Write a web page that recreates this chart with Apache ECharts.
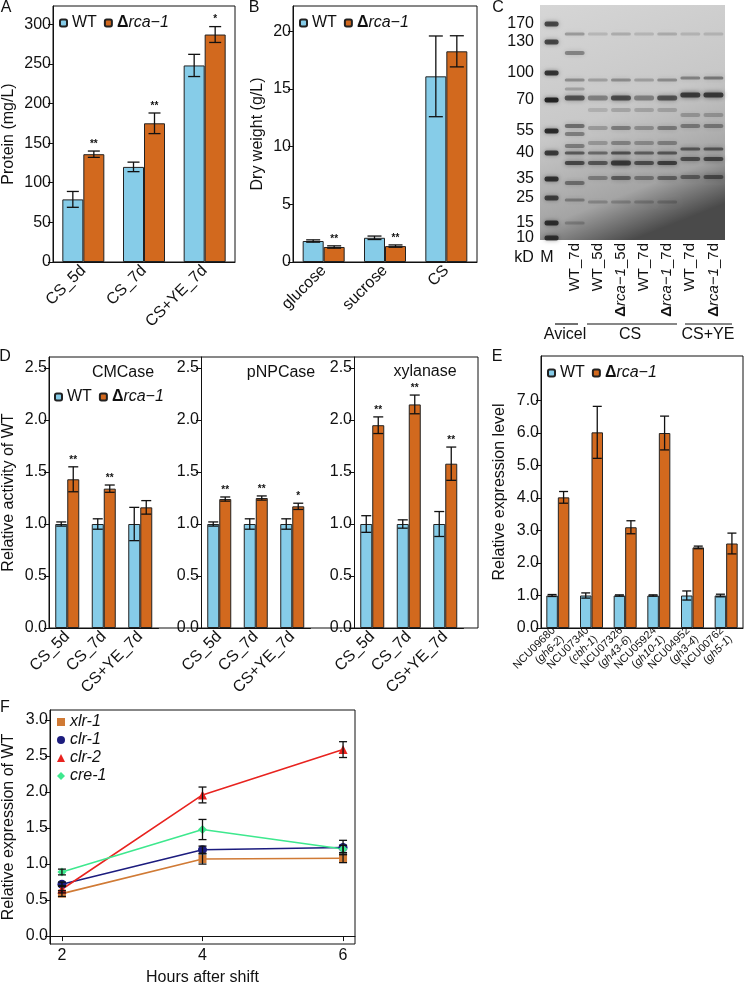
<!DOCTYPE html>
<html>
<head>
<meta charset="utf-8">
<script src="https://cdn.jsdelivr.net/npm/echarts@6/dist/echarts.min.js"></script>
<style>
html, body { margin: 0; padding: 0; background: #fff; }
#main { width: 747px; height: 987px; }
</style>
</head>
<body>
<div id="main"></div>
<script>
// ---- data ----
var catsA = ['CS_5d', 'CS_7d', 'CS+YE_7d'];
var wtA = [79, 120, 248];
var wtAErr = [10, 6, 14];
var mutA = [136, 175, 287];
var mutAErr = [4, 13, 10];
var starsA = ['**', '**', '*'];
var ticksA = [0, 50, 100, 150, 200, 250, 300];

var catsB = ['glucose', 'sucrose', 'CS'];
var wtB = [1.82, 2.1, 16.1];
var wtBErr = [0.1, 0.15, 3.5];
var mutB = [1.3, 1.38, 18.27];
var mutBErr = [0.1, 0.1, 1.35];
var starsB = ['**', '**', ''];
var ticksB = [0, 5, 10, 15, 20];

// gel (panel C)
var laneStrain = ['', 'WT', 'WT', 'mut', 'WT', 'mut', 'WT', 'mut'];
var laneDay = ['', '_7d', '_5d', '_5d', '_7d', '_7d', '_7d', '_7d'];
var markerKd = [170, 130, 100, 70, 55, 40, 35, 25, 15, 10];
var markerPos = [19, 37, 68, 95, 126, 148, 174, 193, 218, 233];
var markerInt = [0.65, 0.65, 0.75, 0.85, 0.8, 0.7, 0.75, 0.65, 0.75, 0.7];
// [lane, migration, intensity, thickness]
var bands = [
  [1, 29, 0.3, 3], [1, 48, 0.4, 4], [1, 75, 0.35, 3], [1, 84, 0.25, 3], [1, 93, 0.65, 5],
  [1, 121, 0.5, 4], [1, 129, 0.4, 4], [1, 141, 0.4, 4], [1, 148, 0.6, 3], [1, 158, 0.7, 4],
  [1, 178, 0.45, 4], [1, 195, 0.35, 3], [1, 218, 0.25, 3],
  [2, 29, 0.15, 3], [2, 75, 0.25, 3], [2, 93, 0.4, 5], [2, 105, 0.15, 4], [2, 123, 0.25, 4],
  [2, 138, 0.25, 4], [2, 148, 0.5, 3], [2, 158, 0.6, 4], [2, 173, 0.35, 4], [2, 197, 0.25, 3],
  [3, 29, 0.2, 3], [3, 75, 0.35, 3], [3, 93, 0.7, 5], [3, 105, 0.2, 4], [3, 123, 0.4, 4],
  [3, 138, 0.35, 4], [3, 148, 0.65, 3], [3, 158, 0.8, 5], [3, 173, 0.55, 4], [3, 197, 0.25, 3],
  [4, 29, 0.15, 3], [4, 75, 0.25, 3], [4, 93, 0.4, 5], [4, 105, 0.2, 4], [4, 123, 0.3, 4],
  [4, 138, 0.3, 4], [4, 148, 0.55, 3], [4, 158, 0.65, 4], [4, 173, 0.4, 4], [4, 197, 0.25, 3],
  [5, 29, 0.2, 3], [5, 75, 0.35, 3], [5, 93, 0.65, 5], [5, 105, 0.2, 4], [5, 123, 0.4, 4],
  [5, 138, 0.35, 4], [5, 148, 0.6, 3], [5, 158, 0.75, 4], [5, 173, 0.5, 4], [5, 197, 0.25, 3],
  [6, 29, 0.15, 3], [6, 73, 0.4, 3], [6, 90, 0.8, 5], [6, 110, 0.25, 4], [6, 121, 0.4, 4],
  [6, 144, 0.6, 3], [6, 154, 0.65, 4], [6, 172, 0.5, 4],
  [7, 29, 0.15, 3], [7, 73, 0.45, 3], [7, 90, 0.8, 5], [7, 110, 0.25, 4], [7, 121, 0.4, 4],
  [7, 144, 0.6, 3], [7, 154, 0.7, 4], [7, 172, 0.6, 4]
];

var catsD = ['CS_5d', 'CS_7d', 'CS+YE_7d'];
var ticksD = [0, 0.5, 1, 1.5, 2, 2.5];
var cmcWt = [1.0, 1.0, 1.0], cmcWtErr = [0.02, 0.05, 0.16];
var cmcMut = [1.43, 1.34, 1.16], cmcMutErr = [0.12, 0.035, 0.065];
var cmcStars = ['**', '**', ''];
var pnpWt = [1.0, 1.0, 1.0], pnpWtErr = [0.02, 0.05, 0.05];
var pnpMut = [1.24, 1.25, 1.17], pnpMutErr = [0.02, 0.02, 0.03];
var pnpStars = ['**', '**', '*'];
var xylWt = [1.0, 1.0, 1.0], xylWtErr = [0.08, 0.04, 0.12];
var xylMut = [1.95, 2.15, 1.58], xylMutErr = [0.08, 0.09, 0.16];
var xylStars = ['**', '**', '**'];

var geneIds = ['NCU09680', 'NCU07340', 'NCU07326', 'NCU05924', 'NCU04952', 'NCU00762'];
var geneNames = ['gh6-2', 'cbh-1', 'gh43-6', 'gh10-1', 'gh3-4', 'gh5-1'];
var wtE = [1.0, 1.0, 1.0, 1.0, 1.0, 1.0];
var wtEErr = [0.03, 0.08, 0.02, 0.02, 0.14, 0.04];
var mutE = [4.02, 6.02, 3.1, 6.0, 2.48, 2.6];
var mutEErr = [0.18, 0.8, 0.2, 0.52, 0.04, 0.32];
var ticksE = [0, 1, 2, 3, 4, 5, 6, 7];

var hours = [2, 4, 6];
var xlr1 = [0.59, 1.07, 1.08], xlr1Err = [0.04, 0.07, 0.06];
var clr1 = [0.72, 1.2, 1.23], clr1Err = [0.03, 0.05, 0.1];
var clr2 = [0.65, 1.96, 2.59], clr2Err = [0.05, 0.11, 0.11];
var cre1 = [0.89, 1.48, 1.21], cre1Err = [0.04, 0.14, 0.05];
var ticksFx = [2, 4, 6];
var ticksFy = [0, 0.5, 1, 1.5, 2, 2.5, 3];

// ---- helpers ----
var FONT = 'Liberation Sans, Arial, sans-serif';
var INK = '#111';
var BLUE = '#86cce8';
var ORANGE = '#d2691e';
var MUT = 'Δrca−1';
var FS = 16;

function yAx(gi, min, max, ticks, digits, name, gap) {
  return {
    type: 'value', gridIndex: gi, min: min, max: max,
    name: name || '', nameLocation: 'middle', nameGap: gap || 30,
    nameTextStyle: { fontSize: FS, color: INK, fontFamily: FONT },
    axisLine: { show: true, lineStyle: { color: INK } },
    axisTick: { show: true, length: 5, customValues: ticks, lineStyle: { color: INK } },
    axisLabel: { customValues: ticks, fontSize: FS, color: INK, margin: 2, fontFamily: FONT,
      formatter: function (v) { return v.toFixed(digits); } },
    splitLine: { show: false }
  };
}
function xCat(gi, cats, size) {
  return {
    type: 'category', gridIndex: gi, data: cats,
    axisTick: { show: false },
    axisLine: { show: true, lineStyle: { color: INK } },
    axisLabel: { rotate: 45, interval: 0, fontSize: size, color: INK, margin: 6, fontFamily: FONT }
  };
}
function bars(ai, name, data, color, bw) {
  return {
    type: 'bar', name: name, xAxisIndex: ai, yAxisIndex: ai, data: data,
    barWidth: bw, barGap: '0%', silent: true,
    itemStyle: { color: color, borderColor: '#222', borderWidth: 1 }
  };
}
function errs(ai, vals, errv, stars, offset, cap) {
  return {
    type: 'custom', xAxisIndex: ai, yAxisIndex: ai, z: 10, silent: true,
    data: vals.map(function (v, i) { return [i, v, errv[i]]; }),
    renderItem: function (params, api) {
      var c = api.value(0), v = api.value(1), e = api.value(2);
      var x = api.coord([c, v])[0] + offset;
      var top = api.coord([c, v + e])[1];
      var bot = api.coord([c, v - e])[1];
      var st = { stroke: INK, lineWidth: 1.3 };
      var ch = [
        { type: 'line', shape: { x1: x, y1: top, x2: x, y2: bot }, style: st },
        { type: 'line', shape: { x1: x - cap, y1: top, x2: x + cap, y2: top }, style: st },
        { type: 'line', shape: { x1: x - cap, y1: bot, x2: x + cap, y2: bot }, style: st }
      ];
      var s = stars && stars[params.dataIndex];
      if (s) {
        ch.push({ type: 'text', style: { text: s, x: x, y: top - 2, align: 'center',
          verticalAlign: 'bottom', font: 'bold 10px ' + FONT, fill: INK } });
      }
      return { type: 'group', children: ch };
    }
  };
}
function lineErr(ai, xs, vals, errv) {
  return {
    type: 'custom', xAxisIndex: ai, yAxisIndex: ai, z: 10, silent: true,
    data: vals.map(function (v, i) { return [xs[i], v, errv[i]]; }),
    renderItem: function (params, api) {
      var xv = api.value(0), v = api.value(1), e = api.value(2);
      var x = api.coord([xv, v])[0];
      var top = api.coord([xv, v + e])[1];
      var bot = api.coord([xv, v - e])[1];
      var st = { stroke: INK, lineWidth: 1.3 };
      return { type: 'group', children: [
        { type: 'line', shape: { x1: x, y1: top, x2: x, y2: bot }, style: st },
        { type: 'line', shape: { x1: x - 4, y1: top, x2: x + 4, y2: top }, style: st },
        { type: 'line', shape: { x1: x - 4, y1: bot, x2: x + 4, y2: bot }, style: st }
      ] };
    }
  };
}
function pairs(xs, ys) { return ys.map(function (y, i) { return [xs[i], y]; }); }
var legRich = { d: { fontWeight: 'bold', fontSize: FS, fontFamily: FONT }, i: { fontStyle: 'italic', fontSize: FS, fontFamily: FONT } };
function legBar(left, top) {
  return {
    left: left, top: top, padding: 0, itemWidth: 7, itemHeight: 7, itemGap: 7,
    data: ['WT', MUT], selectedMode: false,
    textStyle: { fontSize: FS, color: INK, fontFamily: FONT, rich: legRich },
    formatter: function (n) { return n === 'WT' ? 'WT' : '{d|Δ}{i|rca−1}'; }
  };
}
function txt(x, y, s, size, extra) {
  var o = { type: 'text', x: x, y: y, style: { text: s, font: (size || FS) + 'px ' + FONT, fill: INK,
    align: 'center', verticalAlign: 'middle' } };
  if (extra) for (var k in extra) o.style[k] = extra[k];
  return o;
}
function hline(x1, x2, y) {
  return { type: 'line', shape: { x1: x1, y1: y, x2: x2, y2: y }, style: { stroke: INK, lineWidth: 1.2 } };
}

// ---- chart ----
var chart = echarts.init(document.getElementById('main'));

var LANE_FS = 15;
var gelAxisX = {
  type: 'category', gridIndex: 2, data: laneStrain.map(function (s, i) { return s + laneDay[i]; }),
  axisTick: { show: false }, axisLine: { show: false },
  axisLabel: {
    rotate: 90, interval: 0, fontSize: LANE_FS, color: INK, margin: 3, fontFamily: FONT,
    rich: { d: { fontWeight: 'bold', fontSize: LANE_FS, fontFamily: FONT }, i: { fontStyle: 'italic', fontSize: LANE_FS, fontFamily: FONT } },
    formatter: function (v, idx) {
      if (idx === 0) return '';
      return (laneStrain[idx] === 'mut' ? '{d|Δ}{i|rca−1}' : 'WT') + laneDay[idx];
    }
  }
};
var gelAxisY = { type: 'value', gridIndex: 2, min: 0, max: 235, inverse: true, show: false };

var gelBackground = {
  type: 'custom', xAxisIndex: 2, yAxisIndex: 2, silent: true, z: 1,
  data: [[0, 0]],
  renderItem: function (params) {
    var r = params.coordSys;
    return { type: 'rect', shape: { x: r.x, y: r.y, width: r.width, height: r.height },
      style: { fill: { type: 'linear', x: 0, y: 0, x2: 0.5, y2: 1, colorStops: [
        { offset: 0, color: '#d6d6d6' }, { offset: 0.5, color: '#c8c8c8' },
        { offset: 0.82, color: '#a4a4a4' }, { offset: 1, color: '#4a4a4a' } ] } } };
  }
};
var gelMarker = {
  type: 'custom', xAxisIndex: 2, yAxisIndex: 2, silent: true, z: 3,
  data: markerPos.map(function (p, i) { return [0, p, markerInt[i], markerKd[i]]; }),
  renderItem: function (params, api) {
    var p = api.coord([0, api.value(1)]);
    var r = params.coordSys;
    return { type: 'group', children: [
      { type: 'rect', shape: { x: p[0] - 7, y: p[1] - 2.5, width: 14, height: 5, r: 2 },
        style: { fill: 'rgba(15,15,15,' + api.value(2) + ')', shadowBlur: 4, shadowColor: 'rgba(0,0,0,0.5)' } },
      { type: 'text', style: { text: String(api.value(3)), x: r.x - 6, y: p[1], align: 'right',
        verticalAlign: 'middle', font: FS + 'px ' + FONT, fill: INK } }
    ] };
  }
};
var gelBands = {
  type: 'custom', xAxisIndex: 2, yAxisIndex: 2, silent: true, z: 2,
  data: bands,
  renderItem: function (params, api) {
    var p = api.coord([api.value(0), api.value(1)]);
    var w = api.size([1, 0])[0] * 0.86;
    var h = api.value(3);
    var c = 'rgba(35,35,35,' + api.value(2) + ')';
    return { type: 'rect', shape: { x: p[0] - w / 2, y: p[1] - h / 2, width: w, height: h, r: 2 },
      style: { fill: c, shadowBlur: 5, shadowColor: c } };
  }
};

var option = {
  animation: false,
  backgroundColor: '#fff',
  textStyle: { fontFamily: FONT },
  grid: [
    { left: 53, top: 6, width: 182, height: 256, show: true, borderColor: INK, borderWidth: 1 },
    { left: 293, top: 6, width: 184, height: 256, show: true, borderColor: INK, borderWidth: 1 },
    { left: 540, top: 5, width: 185, height: 235 },
    { left: 49, top: 357, width: 109.5, height: 271 },
    { left: 201, top: 357, width: 109.5, height: 271 },
    { left: 354, top: 357, width: 109.5, height: 271 },
    { left: 541, top: 356, width: 202, height: 272, show: true, borderColor: INK, borderWidth: 1 },
    { left: 49, top: 710, width: 306, height: 235, show: true, borderColor: INK, borderWidth: 1 }
  ],
  xAxis: [
    xCat(0, catsA, FS),
    xCat(1, catsB, FS),
    gelAxisX,
    xCat(3, catsD, FS),
    xCat(4, catsD, FS),
    xCat(5, catsD, FS),
    (function () {
      var a = xCat(6, geneIds, 11);
      a.axisLabel.lineHeight = 12;
      a.axisLabel.margin = 5;
      a.axisLabel.rich = { i: { fontStyle: 'italic', fontSize: 11, fontFamily: FONT } };
      a.axisLabel.formatter = function (v, idx) { return geneIds[idx] + '\n({i|' + geneNames[idx] + '})'; };
      return a;
    })(),
    {
      type: 'value', gridIndex: 7, min: 1.83, max: 6.17,
      name: 'Hours after shift', nameLocation: 'middle', nameGap: 26,
      nameTextStyle: { fontSize: FS, color: INK, fontFamily: FONT },
      axisLine: { show: true, lineStyle: { color: INK } },
      axisTick: { show: true, length: 5, customValues: ticksFx, lineStyle: { color: INK } },
      axisLabel: { customValues: ticksFx, fontSize: FS, color: INK, margin: 4, fontFamily: FONT },
      splitLine: { show: false }
    }
  ],
  yAxis: [
    yAx(0, 0, 323, ticksA, 0, 'Protein (mg/L)', 36),
    yAx(1, 0, 22.2, ticksB, 0, 'Dry weight (g/L)', 27),
    gelAxisY,
    yAx(3, 0, 2.606, ticksD, 1, 'Relative activity of WT', 32),
    yAx(4, 0, 2.606, ticksD, 1),
    yAx(5, 0, 2.606, ticksD, 1),
    yAx(6, 0, 8.37, ticksE, 1, 'Relative expression level', 33),
    yAx(7, -0.11, 3.14, ticksFy, 1, 'Relative expression of WT', 33)
  ],
  legend: [
    legBar(59, 15),
    legBar(299, 15),
    legBar(54, 389),
    legBar(547, 365),
    {
      orient: 'vertical', left: 57, top: 714, padding: 0, itemWidth: 8, itemHeight: 8, itemGap: 2,
      selectedMode: false,
      textStyle: { fontSize: FS, fontStyle: 'italic', color: INK, fontFamily: FONT },
      data: [{ name: 'xlr-1', icon: 'rect' }, { name: 'clr-1', icon: 'circle' },
        { name: 'clr-2', icon: 'triangle' }, { name: 'cre-1', icon: 'diamond' }]
    }
  ],
  series: [
    bars(0, 'WT', wtA, BLUE, 21), bars(0, MUT, mutA, ORANGE, 21),
    errs(0, wtA, wtAErr, null, -10.5, 6), errs(0, mutA, mutAErr, starsA, 10.5, 6),

    bars(1, 'WT', wtB, BLUE, 21), bars(1, MUT, mutB, ORANGE, 21),
    errs(1, wtB, wtBErr, null, -10.5, 7), errs(1, mutB, mutBErr, starsB, 10.5, 7),

    gelBackground, gelBands, gelMarker,

    bars(3, 'WT', cmcWt, BLUE, 12), bars(3, MUT, cmcMut, ORANGE, 12),
    errs(3, cmcWt, cmcWtErr, null, -6, 5), errs(3, cmcMut, cmcMutErr, cmcStars, 6, 5),
    bars(4, 'WT', pnpWt, BLUE, 12), bars(4, MUT, pnpMut, ORANGE, 12),
    errs(4, pnpWt, pnpWtErr, null, -6, 5), errs(4, pnpMut, pnpMutErr, pnpStars, 6, 5),
    bars(5, 'WT', xylWt, BLUE, 12), bars(5, MUT, xylMut, ORANGE, 12),
    errs(5, xylWt, xylWtErr, null, -6, 5), errs(5, xylMut, xylMutErr, xylStars, 6, 5),

    bars(6, 'WT', wtE, BLUE, 11.5), bars(6, MUT, mutE, ORANGE, 11.5),
    errs(6, wtE, wtEErr, null, -5.75, 4.5), errs(6, mutE, mutEErr, null, 5.75, 4.5),

    { type: 'line', name: 'xlr-1', xAxisIndex: 7, yAxisIndex: 7, data: pairs(hours, xlr1),
      symbol: 'rect', symbolSize: 8, color: '#d07a35', lineStyle: { width: 1.6 } },
    { type: 'line', name: 'clr-1', xAxisIndex: 7, yAxisIndex: 7, data: pairs(hours, clr1),
      symbol: 'circle', symbolSize: 9, color: '#1c1c7e', lineStyle: { width: 1.6 } },
    { type: 'line', name: 'clr-2', xAxisIndex: 7, yAxisIndex: 7, data: pairs(hours, clr2),
      symbol: 'triangle', symbolSize: 9, color: '#e8231f', lineStyle: { width: 1.6 } },
    { type: 'line', name: 'cre-1', xAxisIndex: 7, yAxisIndex: 7, data: pairs(hours, cre1),
      symbol: 'diamond', symbolSize: 9, color: '#3ee88e', lineStyle: { width: 1.6 } },
    lineErr(7, hours, xlr1, xlr1Err), lineErr(7, hours, clr1, clr1Err),
    lineErr(7, hours, clr2, clr2Err), lineErr(7, hours, cre1, cre1Err)
  ],
  graphic: [
    txt(6, 8, 'A'), txt(254, 8, 'B'), txt(498, 8, 'C'),
    txt(5, 357, 'D'), txt(497, 357, 'E'), txt(5, 708, 'F'),
    // frame around the three D panels
    { type: 'rect', shape: { x: 49, y: 357, width: 429, height: 271 }, style: { fill: 'none', stroke: INK, lineWidth: 1 } },
    txt(123, 373, 'CMCase'), txt(281, 373, 'pNPCase'), txt(425, 372, 'xylanase'),
    // gel annotations
    txt(524, 258, 'kD'), txt(547, 258, 'M'),
    hline(555, 578, 324), hline(587, 677, 324), hline(685, 732, 324),
    txt(565, 335, 'Avicel'), txt(630, 335, 'CS'), txt(708, 335, 'CS+YE')
  ]
};
chart.setOption(option);
</script>
</body>
</html>
